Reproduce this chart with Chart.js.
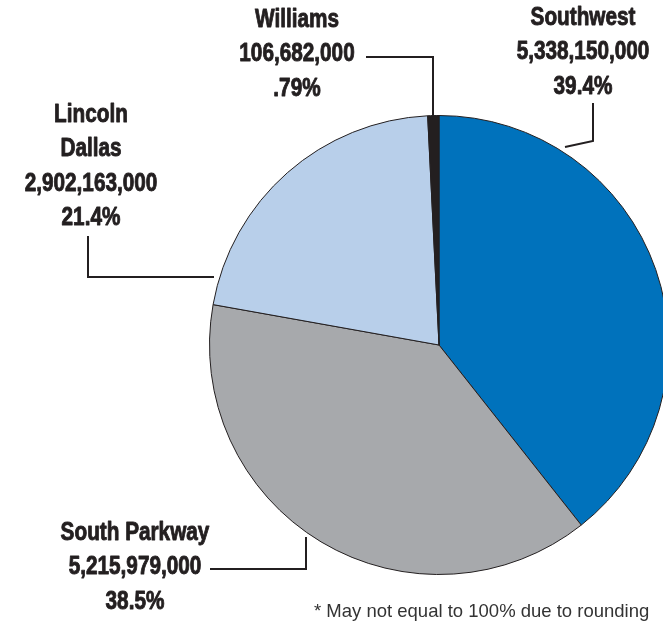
<!DOCTYPE html>
<html>
<head>
<meta charset="utf-8">
<script src="https://cdn.jsdelivr.net/npm/chart.js@4.4.0/dist/chart.umd.min.js"></script>
<style>
  html, body { margin: 0; padding: 0; background: #fff; overflow: hidden; }
  #wrap { width: 663px; height: 631px; overflow: hidden; position: relative; }
  canvas { display: block; }
</style>
</head>
<body>
<div id="wrap">
  <canvas id="pieChart" width="700" height="631"></canvas>
</div>
<script>
// data
const locations = ['Southwest', 'South Parkway', 'Lincoln Dallas', 'Williams'];
const amounts = [5338150000, 5215979000, 2902163000, 106682000];
const percentLabels = ['39.4%', '38.5%', '21.4%', '.79%'];
const sliceColors = ['#0072BC', '#A7A9AC', '#B8CFEA', '#231F20'];

const fmt = n => n.toLocaleString('en-US');

// label blocks: text lines, center x, first line y, leader polyline
const labelLayout = [
  { lines: ['Southwest', fmt(amounts[0]), percentLabels[0]], x: 583, y: 18, leader: [[593, 103], [593, 141], [565, 147]] },
  { lines: ['South Parkway', fmt(amounts[1]), percentLabels[1]], x: 135, y: 533, leader: [[210, 569], [306, 569], [306, 537]] },
  { lines: ['Lincoln', 'Dallas', fmt(amounts[2]), percentLabels[2]], x: 91, y: 115, leader: [[88, 236], [88, 277], [214, 277]] },
  { lines: ['Williams', fmt(amounts[3]), percentLabels[3]], x: 297, y: 20, leader: [[366, 57], [433, 57], [433, 116]] }
];

const squeeze = 0.83;

const labelPlugin = {
  id: 'calloutLabels',
  afterDraw(chart) {
    const ctx = chart.ctx;
    ctx.save();
    ctx.fillStyle = '#231F20';
    ctx.strokeStyle = '#231F20';
    ctx.lineWidth = 2;
    labelLayout.forEach(l => {
      ctx.beginPath();
      l.leader.forEach((p, i) => i ? ctx.lineTo(p[0], p[1]) : ctx.moveTo(p[0], p[1]));
      ctx.stroke();
    });
    ctx.font = 'bold 25px "Liberation Sans", Arial, sans-serif';
    ctx.textAlign = 'center';
    ctx.textBaseline = 'middle';
    ctx.lineWidth = 0.9;
    ctx.lineJoin = 'round';
    labelLayout.forEach(l => {
      l.lines.forEach((t, i) => {
        ctx.save();
        ctx.translate(l.x, l.y + i * 34.5);
        ctx.scale(squeeze, 1);
        ctx.fillText(t, 0, 0);
        ctx.strokeText(t, 0, 0);
        ctx.restore();
      });
    });
    ctx.font = '18.5px "Liberation Sans", Arial, sans-serif';
    ctx.fillStyle = '#333';
    ctx.textAlign = 'left';
    ctx.fillText('* May not equal to 100% due to rounding', 314, 612);
    ctx.restore();
  }
};

new Chart(document.getElementById('pieChart'), {
  type: 'pie',
  data: {
    labels: locations,
    datasets: [{
      data: amounts,
      backgroundColor: sliceColors,
      borderColor: '#231F20',
      borderWidth: 1
    }]
  },
  options: {
    responsive: false,
    animation: false,
    devicePixelRatio: 1,
    layout: { padding: { left: 209, right: 31, top: 115, bottom: 56 } },
    plugins: {
      legend: { display: false },
      tooltip: { enabled: false }
    }
  },
  plugins: [labelPlugin]
});
</script>
</body>
</html>
